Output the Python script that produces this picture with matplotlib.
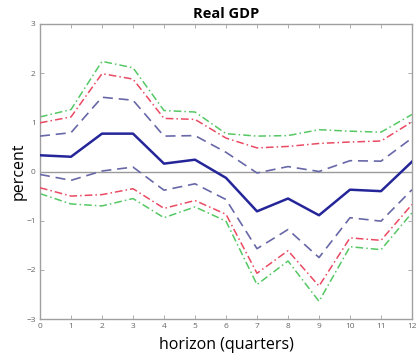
import matplotlib
matplotlib.use("Agg")
import matplotlib.pyplot as plt
import numpy as np

horizon = list(range(13))
median = [0.33, 0.30, 0.77, 0.77, 0.16, 0.24, -0.13, -0.81, -0.55, -0.89, -0.37, -0.40, 0.20]
upper_68 = [0.72, 0.79, 1.51, 1.45, 0.72, 0.73, 0.39, -0.03, 0.10, 0.00, 0.22, 0.21, 0.68]
lower_68 = [-0.06, -0.18, 0.01, 0.09, -0.38, -0.25, -0.57, -1.57, -1.18, -1.75, -0.94, -1.01, -0.37]
upper_90 = [0.99, 1.11, 1.99, 1.88, 1.08, 1.06, 0.68, 0.48, 0.51, 0.57, 0.60, 0.62, 1.01]
lower_90 = [-0.33, -0.50, -0.47, -0.35, -0.75, -0.59, -0.87, -2.07, -1.61, -2.33, -1.35, -1.40, -0.67]
upper_95 = [1.11, 1.26, 2.24, 2.11, 1.24, 1.21, 0.77, 0.72, 0.73, 0.85, 0.82, 0.80, 1.16]
lower_95 = [-0.45, -0.66, -0.70, -0.55, -0.94, -0.72, -1.01, -2.30, -1.82, -2.64, -1.53, -1.59, -0.84]

plt.rcParams['font.family'] = ['Open Sans', 'DejaVu Sans']

fig = plt.figure(figsize=(4.17, 3.6), dpi=100)
ax = fig.add_axes([40 / 417, 1 - 319 / 360, 372 / 417, 295 / 360])

ax.axhline(0, color='#9a9a9a', lw=1.0, zorder=1)

green = '#55c865'
red = '#ea4a62'
dash_blue = '#6868a8'
navy = '#25259a'

for ys in (upper_95, lower_95):
    ax.plot(horizon, ys, color=green, lw=1.1, linestyle=(0, (5, 2, 1, 2)), zorder=2)
for ys in (upper_90, lower_90):
    ax.plot(horizon, ys, color=red, lw=1.1, linestyle=(0, (5, 2, 1, 2)), zorder=3)
for ys in (upper_68, lower_68):
    ax.plot(horizon, ys, color=dash_blue, lw=1.2, linestyle=(0, (6, 3.5)), zorder=4)
ax.plot(horizon, median, color=navy, lw=1.8, zorder=5)

ax.set_xlim(0, 12)
ax.set_ylim(-3, 3)
ax.set_xticks(range(13))
ax.set_yticks(range(-3, 4))

for sp in ax.spines.values():
    sp.set_color('#a0a0a0')
    sp.set_linewidth(1.0)

ax.tick_params(direction='in', length=3, width=0.6, color='#a0a0a0',
               labelsize=6, labelcolor='#666666', top=True, right=True, pad=3)

ax.set_title('Real GDP', fontsize=10.5, fontweight='bold', pad=4)
ax.set_xlabel('horizon (quarters)', fontsize=11.5, labelpad=5)
ax.set_ylabel('percent', fontsize=11.5, labelpad=0)

fig.savefig('out.png', dpi=100)
